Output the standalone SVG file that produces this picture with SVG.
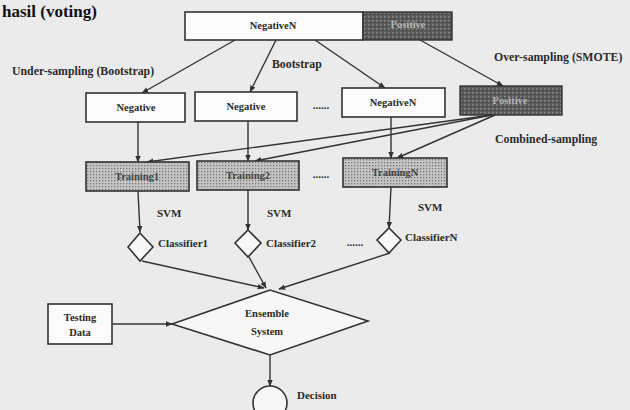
<svg xmlns="http://www.w3.org/2000/svg" width="630" height="410" viewBox="0 0 630 410">
<defs>
<style>
.t{font-family:"Liberation Serif","DejaVu Serif",serif;font-weight:bold;font-size:11px;fill:#2a2a2a}
.lb{font-size:11.8px}
.bx{font-size:10.5px}
.c{text-anchor:middle}
.box{fill:#fbfbfb;stroke:#333;stroke-width:1.6}
.dark{fill:url(#darkpat);stroke:#333;stroke-width:1.4}
.tr{fill:url(#dotpat);stroke:#333;stroke-width:1.6}
.ln{stroke:#333;stroke-width:1.4;fill:none}
.dm{fill:#f7f7f7;stroke:#333;stroke-width:1.6}
</style>
<pattern id="dotpat" width="3" height="3" patternUnits="userSpaceOnUse">
<rect width="3" height="3" fill="#c4c4c4"/>
<rect x="0" y="0" width="1.3" height="1.3" fill="#7a7a7a"/>
</pattern>
<pattern id="darkpat" width="4" height="4" patternUnits="userSpaceOnUse">
<rect width="4" height="4" fill="#5a5a5a"/>
<rect x="0" y="0" width="1.5" height="1.5" fill="#8a8a8a"/>
<rect x="2" y="2" width="1" height="1" fill="#3a3a3a"/>
</pattern>
<marker id="ah" viewBox="0 0 10 10" refX="9" refY="5" markerWidth="7" markerHeight="7" orient="auto" markerUnits="userSpaceOnUse">
<path d="M0,1 L10,5 L0,9 Z" fill="#333"/>
</marker>
</defs>
<rect width="630" height="410" fill="#ebebeb"/>
<text x="2" y="17" style="font-family:'Liberation Serif',serif;font-weight:bold;font-size:17px;fill:#111">hasil (voting)</text>

<g id="connectors">
<line class="ln" x1="235" y1="40" x2="142" y2="93" marker-end="url(#ah)"/>
<line class="ln" x1="276" y1="40" x2="250" y2="92" marker-end="url(#ah)"/>
<line class="ln" x1="315" y1="40" x2="385" y2="88" marker-end="url(#ah)"/>
<line class="ln" x1="420" y1="40" x2="503" y2="86" marker-end="url(#ah)"/>
<line class="ln" x1="138" y1="122" x2="138" y2="162" marker-end="url(#ah)"/>
<line class="ln" x1="248" y1="121" x2="248" y2="161" marker-end="url(#ah)"/>
<line class="ln" x1="391" y1="117" x2="391" y2="158" marker-end="url(#ah)"/>
<line class="ln" x1="492" y1="115" x2="147" y2="162" marker-end="url(#ah)"/>
<line class="ln" x1="492" y1="115" x2="255" y2="161" marker-end="url(#ah)"/>
<line class="ln" x1="495" y1="115" x2="397" y2="158" marker-end="url(#ah)"/>
<line class="ln" x1="138" y1="191" x2="140" y2="232" marker-end="url(#ah)"/>
<line class="ln" x1="248" y1="190" x2="248" y2="230" marker-end="url(#ah)"/>
<line class="ln" x1="391" y1="187" x2="389" y2="228" marker-end="url(#ah)"/>
<line class="ln" x1="142" y1="261" x2="264" y2="288" marker-end="url(#ah)"/>
<line class="ln" x1="249" y1="257" x2="266" y2="288" marker-end="url(#ah)"/>
<line class="ln" x1="390" y1="253" x2="279" y2="289" marker-end="url(#ah)"/>
<line class="ln" x1="112" y1="324" x2="172" y2="324" marker-end="url(#ah)"/>
<line class="ln" x1="270" y1="355" x2="270" y2="386" marker-end="url(#ah)"/>
</g>

<g id="top">
<rect class="box" x="185" y="12" width="178" height="28"/>
<rect class="dark" x="363" y="12" width="89" height="28"/>
<text class="t bx c" x="273" y="29">NegativeN</text>
<text class="t bx c" x="408" y="28" style="fill:#b5b5b5">Positive</text>
</g>

<g id="labels">
<text class="t lb" x="12" y="75">Under-sampling (Bootstrap)</text>
<text class="t lb" x="272" y="68">Bootstrap</text>
<text class="t lb" x="494" y="61">Over-sampling (SMOTE)</text>
<text class="t lb" x="495" y="143">Combined-sampling</text>
</g>

<g id="neg1"><rect class="box" x="86" y="93" width="99" height="29"/><text class="t bx c" x="136" y="111">Negative</text></g>
<g id="neg2"><rect class="box" x="195" y="92" width="102" height="29"/><text class="t bx c" x="246" y="110">Negative</text></g>
<text class="t c" x="321" y="109">......</text>
<g id="negN"><rect class="box" x="342" y="88" width="103" height="29"/><text class="t bx c" x="393" y="106">NegativeN</text></g>
<g id="pos"><rect class="dark" x="460" y="86" width="102" height="29"/><text class="t bx c" x="510" y="104" style="fill:#b5b5b5">Positive</text></g>

<g id="train1"><rect class="tr" x="86" y="162" width="103" height="29"/><text class="t bx c" x="137" y="180" style="fill:#444">Training1</text></g>
<g id="train2"><rect class="tr" x="197" y="161" width="102" height="29"/><text class="t bx c" x="248" y="179" style="fill:#444">Training2</text></g>
<text class="t c" x="321" y="178">......</text>
<g id="trainN"><rect class="tr" x="343" y="158" width="104" height="29"/><text class="t bx c" x="395" y="176" style="fill:#444">TrainingN</text></g>

<g id="svm">
<text class="t" x="157" y="217">SVM</text>
<text class="t" x="267" y="217">SVM</text>
<text class="t" x="418" y="211">SVM</text>
</g>

<g id="clf1"><polygon class="dm" points="140,233 153,247 140,261 128,247"/><text class="t" x="158" y="247">Classifier1</text></g>
<g id="clf2"><polygon class="dm" points="248,230 261,243 248,257 235,243"/><text class="t" x="266" y="247">Classifier2</text></g>
<text class="t c" x="355" y="246">......</text>
<g id="clfN"><polygon class="dm" points="389,228 401,240 389,253 377,240"/><text class="t" x="405" y="241">ClassifierN</text></g>

<g id="testing"><rect class="box" x="48" y="304" width="64" height="40"/><text class="t bx c" x="80" y="321">Testing</text><text class="t bx c" x="80" y="336">Data</text></g>
<g id="ensemble"><polygon class="dm" points="172,324 270,290 368,321 270,355"/><text class="t bx c" x="267" y="317">Ensemble</text><text class="t bx c" x="267" y="335">System</text></g>
<g id="decision"><circle class="dm" cx="270" cy="403" r="17"/><text class="t" x="297" y="399">Decision</text></g>
</svg>
